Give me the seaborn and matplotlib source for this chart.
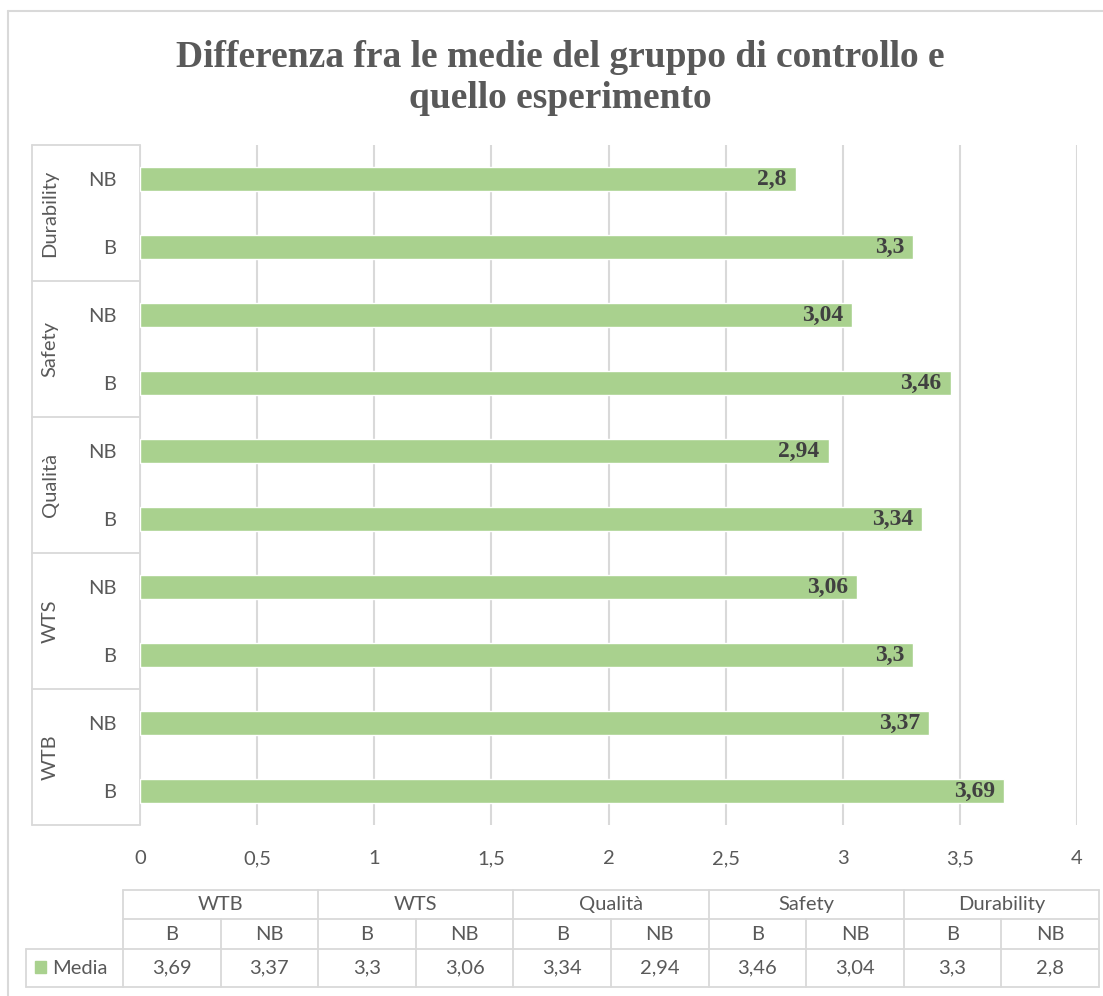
import matplotlib
matplotlib.use("Agg")
import matplotlib.pyplot as plt
import seaborn as sns
import pandas as pd
from matplotlib.lines import Line2D
from matplotlib.patches import Rectangle

# ---- data ----
groups = ["WTB", "WTS", "Qualità", "Safety", "Durability"]
subs = ["B", "NB"]
media = [3.69, 3.37, 3.3, 3.06, 3.34, 2.94, 3.46, 3.04, 3.3, 2.8]
series_name = "Media"
xticks = [0, 0.5, 1, 1.5, 2, 2.5, 3, 3.5, 4]
title = "Differenza fra le medie del gruppo di controllo e\nquello esperimento"

def fmt(v):
    s = ("%.2f" % v).rstrip("0").rstrip(".")
    return s.replace(".", ",")

rows = []
for gi, g in enumerate(groups):
    for si, s in enumerate(subs):
        rows.append({"group": g, "sub": s, "key": g + "|" + s, "value": media[gi * 2 + si]})
df = pd.DataFrame(rows)
order = list(df["key"][::-1])  # top to bottom: Durability NB ... WTB B

sns.set_theme(style="white")
plt.rcParams["font.family"] = ["Lato", "DejaVu Sans"]

W, H = 1103, 996
fig = plt.figure(figsize=(W / 100, H / 100), dpi=100)
fig.patch.set_facecolor("white")

def fx(px):
    return px / W

def fy(py):
    return 1 - py / H

x0, x1, y0, y1 = 140, 1077, 145, 825
ax = fig.add_axes([fx(x0), fy(y1), fx(x1) - fx(x0), fy(y0) - fy(y1)])

green = "#A9D18E"
grid_c = "#D9D9D9"
text_c = "#595959"
fs = 14.5

sns.barplot(data=df, x="value", y="key", order=order, color=green, width=0.34,
            saturation=1, ax=ax, zorder=3)
ax.set_xlim(0, 4)
ax.set_ylim(9.5, -0.5)
ax.set_xticks(xticks)
ax.set_xticklabels([fmt(t) for t in xticks], fontsize=fs, color=text_c)
ax.set_yticks(range(len(order)))
ax.set_yticklabels([k.split("|")[1] for k in order], fontsize=fs, color=text_c)
ax.tick_params(axis="y", length=0, pad=17)
ax.tick_params(axis="x", length=0, pad=18)
ax.set_xlabel("")
ax.set_ylabel("")
for sp in ["top", "right", "bottom"]:
    ax.spines[sp].set_visible(False)
ax.spines["left"].set_color(grid_c)
ax.spines["left"].set_linewidth(1.3)
ax.xaxis.grid(True, color=grid_c, linewidth=1.5, zorder=0)
ax.set_axisbelow(True)

# bar labels
vals = df.set_index("key")["value"]
for i, k in enumerate(order):
    v = vals[k]
    ax.annotate(fmt(v), xy=(v, i), xytext=(-6.5, 0), textcoords="offset points",
                ha="right", va="center", fontsize=17, fontweight="bold",
                color="#404040", family="Liberation Serif", zorder=4)

# title
fig.text(0.508, fy(78), title, ha="center", va="center", fontsize=27,
         fontweight="bold", color=text_c, family="Liberation Serif", linespacing=1.25)

# outer border
fig.add_artist(Line2D([fx(8), fx(8)], [fy(11), fy(996)], color=grid_c, lw=1.5))
fig.add_artist(Line2D([fx(8), fx(1103)], [fy(11), fy(11)], color=grid_c, lw=1.5))

# category label box on the left
band = (y1 - y0) / len(groups)
fig.add_artist(Line2D([fx(32), fx(32)], [fy(y0), fy(y1)], color=grid_c, lw=1.3))
for j in range(len(groups) + 1):
    yy = y0 + j * band
    fig.add_artist(Line2D([fx(32), fx(139)], [fy(yy), fy(yy)], color=grid_c, lw=1.3))
for j, g in enumerate(groups[::-1]):
    yc = y0 + (j + 0.5) * band
    fig.text(fx(50), fy(yc), g, rotation=90, ha="center", va="center",
             fontsize=fs, color=text_c)

# data table
tl, tr = 123, 1099
r0, r1, r2, r3 = 890, 919, 949, 987
left_media = 26
ncol = len(groups) * len(subs)
cw = (tr - tl) / ncol
lc = "#D9D9D9"
def hline(x_a, x_b, yy):
    fig.add_artist(Line2D([fx(x_a), fx(x_b)], [fy(yy), fy(yy)], color=lc, lw=1.3))
def vline(xx, y_a, y_b):
    fig.add_artist(Line2D([fx(xx), fx(xx)], [fy(y_a), fy(y_b)], color=lc, lw=1.3))

hline(tl, tr, r0)
hline(tl, tr, r1)
hline(left_media, tr, r2)
hline(left_media, tr, r3)
vline(left_media, r2, r3)
for gi in range(len(groups) + 1):
    vline(tl + gi * 2 * cw, r0, r3)
for c in range(1, ncol, 2):
    vline(tl + c * cw, r1, r3)

for gi, g in enumerate(groups):
    fig.text(fx(tl + (gi + 0.5) * 2 * cw), fy((r0 + r1) / 2), g, ha="center",
             va="center", fontsize=fs, color=text_c)
for c in range(ncol):
    xc = tl + (c + 0.5) * cw
    fig.text(fx(xc), fy((r1 + r2) / 2), subs[c % 2], ha="center", va="center",
             fontsize=fs, color=text_c)
    fig.text(fx(xc), fy((r2 + r3) / 2), fmt(media[c]), ha="center", va="center",
             fontsize=fs, color=text_c)

fig.add_artist(Rectangle((fx(35), fy(973)), fx(11), fy(961) - fy(973), color=green,
                         transform=fig.transFigure))
fig.text(fx(52), fy((r2 + r3) / 2), series_name, ha="left", va="center",
         fontsize=fs, color=text_c)

fig.savefig("out.png", dpi=100)
